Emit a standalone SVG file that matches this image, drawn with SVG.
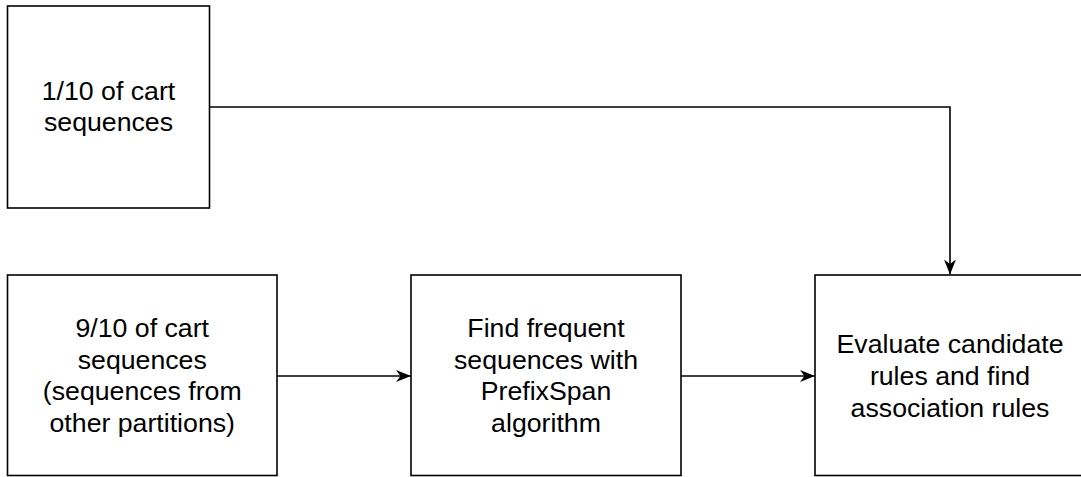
<svg xmlns="http://www.w3.org/2000/svg" width="1081" height="477" viewBox="0 0 1081 477">
  <style>
    .box { fill: #ffffff; stroke: #000000; stroke-width: 1.6; }
    .edge { fill: none; stroke: #000000; stroke-width: 1.6; }
    .label { font-family: "Liberation Sans", Arial, Helvetica, sans-serif; font-size: 26.7px; fill: #000000; text-anchor: middle; }
  </style>
  <defs>
    <marker id="arrow" viewBox="0 0 15 12" refX="14.5" refY="6" markerWidth="15" markerHeight="12" markerUnits="userSpaceOnUse" orient="auto">
      <path d="M0,0 L15,6 L0,12 L4.5,6 Z" fill="#000000"/>
    </marker>
  </defs>

  <rect width="1081" height="477" fill="#ffffff"/>

  <!-- connectors -->
  <g id="connectors">
    <path class="edge" d="M209.5,107 H950 V274" marker-end="url(#arrow)"/>
    <path class="edge" d="M277,376 H410.5" marker-end="url(#arrow)"/>
    <path class="edge" d="M681,376 H814.5" marker-end="url(#arrow)"/>
  </g>

  <!-- test split -->
  <g id="node-test">
    <rect class="box" x="7.5" y="6" width="202" height="202"/>
    <text class="label" x="108.5" y="100">1/10 of cart</text>
    <text class="label" x="108.5" y="131">sequences</text>
  </g>

  <!-- training split -->
  <g id="node-train">
    <rect class="box" x="7.5" y="275" width="269.5" height="200.5"/>
    <text class="label" x="142.25" y="337">9/10 of cart</text>
    <text class="label" x="142.25" y="368.5">sequences</text>
    <text class="label" x="142.25" y="400">(sequences from</text>
    <text class="label" x="142.25" y="431.5">other partitions)</text>
  </g>

  <!-- sequential pattern mining -->
  <g id="node-prefixspan">
    <rect class="box" x="411" y="275" width="270" height="200.5"/>
    <text class="label" x="546" y="337">Find frequent</text>
    <text class="label" x="546" y="368.5">sequences with</text>
    <text class="label" x="546" y="400">PrefixSpan</text>
    <text class="label" x="546" y="431.5">algorithm</text>
  </g>

  <!-- rule evaluation -->
  <g id="node-evaluate">
    <rect class="box" x="815" y="275" width="270" height="200.5"/>
    <text class="label" x="950" y="353">Evaluate candidate</text>
    <text class="label" x="950" y="385">rules and find</text>
    <text class="label" x="950" y="417">association rules</text>
  </g>
</svg>
